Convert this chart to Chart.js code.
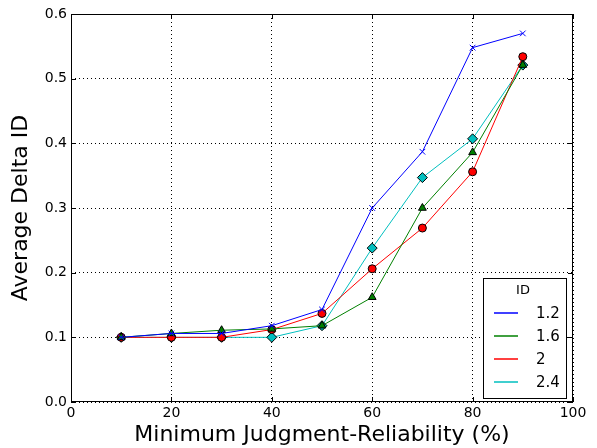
<!DOCTYPE html>
<html>
<head>
<meta charset="utf-8">
<script src="https://cdn.jsdelivr.net/npm/chart.js@4"></script>
<style>
  html, body { margin: 0; padding: 0; background: #fff; }
  #wrap { width: 597px; height: 448px; }
</style>
</head>
<body>
<div id="wrap"><canvas id="deltaChart" width="597" height="448"></canvas></div>
<script>
// data
var reliability = [10, 20, 30, 40, 50, 60, 70, 80, 90];
var id12 = [0.100, 0.106, 0.106, 0.118, 0.143, 0.300, 0.387, 0.548, 0.570];
var id16 = [0.100, 0.106, 0.111, 0.113, 0.118, 0.162, 0.300, 0.386, 0.521];
var id20 = [0.100, 0.100, 0.100, 0.112, 0.137, 0.206, 0.269, 0.356, 0.534];
var id24 = [0.100, 0.100, 0.100, 0.100, 0.118, 0.238, 0.347, 0.407, 0.521];
var seriesLabels = ['1.2', '1.6', '2', '2.4'];
var xTicks = [0, 20, 40, 60, 80, 100];
var yTicks = [0.0, 0.1, 0.2, 0.3, 0.4, 0.5, 0.6];

var FONT = 'DejaVu Sans, sans-serif';

function pts(ys) {
    return reliability.map(function (x, i) { return { x: x, y: ys[i] }; });
}

// box around the plot, inward tick marks and the boxed legend
var framePlugin = {
    id: 'frame',
    afterDraw: function (chart) {
        var ctx = chart.ctx, a = chart.chartArea;
        var xs = chart.scales.x, ys = chart.scales.y;
        ctx.save();
        ctx.strokeStyle = '#000';
        ctx.lineWidth = 1;
        ctx.setLineDash([]);
        ctx.strokeRect(a.left + 0.5, a.top + 0.5, a.right - a.left - 1, a.bottom - a.top - 1);
        ctx.beginPath();
        xTicks.forEach(function (v) {
            var px = Math.round(xs.getPixelForValue(v)) + 0.5;
            ctx.moveTo(px, a.bottom); ctx.lineTo(px, a.bottom - 5);
            ctx.moveTo(px, a.top); ctx.lineTo(px, a.top + 5);
        });
        yTicks.forEach(function (v) {
            var py = Math.round(ys.getPixelForValue(v)) + 0.5;
            ctx.moveTo(a.left, py); ctx.lineTo(a.left + 5, py);
            ctx.moveTo(a.right, py); ctx.lineTo(a.right - 5, py);
        });
        ctx.stroke();

        // legend
        var lx = 483, ly = 278, lw = 83, lh = 120;
        ctx.fillStyle = '#fff';
        ctx.fillRect(lx, ly, lw, lh);
        ctx.strokeRect(lx + 0.5, ly + 0.5, lw, lh);
        ctx.fillStyle = '#000';
        ctx.font = '13px ' + FONT;
        ctx.textAlign = 'center';
        ctx.textBaseline = 'middle';
        ctx.fillText('ID', 523, 291);
        ctx.font = '15px ' + FONT;
        ctx.textAlign = 'left';
        chart.data.datasets.forEach(function (ds, i) {
            var y = 313 + i * 23;
            ctx.strokeStyle = ds.borderColor;
            ctx.lineWidth = 1.5;
            ctx.beginPath();
            ctx.moveTo(494, y);
            ctx.lineTo(518, y);
            ctx.stroke();
            ctx.fillText(ds.label, 536, y + 1);
        });
        ctx.restore();
    }
};

var ctx = document.getElementById('deltaChart').getContext('2d');
var deltaChart = new Chart(ctx, {
    type: 'line',
    data: {
        datasets: [{
            label: seriesLabels[0],
            data: pts(id12),
            borderColor: '#0000ff',
            backgroundColor: '#0000ff',
            pointStyle: 'crossRot',
            pointRadius: 4,
            pointBorderColor: '#0000ff',
            pointBorderWidth: 1
        }, {
            label: seriesLabels[1],
            data: pts(id16),
            borderColor: '#008000',
            backgroundColor: '#008000',
            pointStyle: 'triangle',
            pointRadius: 4.5,
            pointBorderColor: '#000',
            pointBorderWidth: 1
        }, {
            label: seriesLabels[2],
            data: pts(id20),
            borderColor: '#ff0000',
            backgroundColor: '#ff0000',
            pointStyle: 'circle',
            pointRadius: 4,
            pointBorderColor: '#000',
            pointBorderWidth: 1
        }, {
            label: seriesLabels[3],
            data: pts(id24),
            borderColor: '#00bfbf',
            backgroundColor: '#00bfbf',
            pointStyle: 'rectRot',
            pointRadius: 5,
            pointBorderColor: '#000',
            pointBorderWidth: 1
        }]
    },
    options: {
        responsive: false,
        animation: false,
        elements: { line: { borderWidth: 1, tension: 0 } },
        layout: { padding: { left: 0, right: 24, top: 14, bottom: 0 } },
        scales: {
            x: {
                type: 'linear',
                min: 0,
                max: 100,
                afterFit: function (s) { s.height = 46; },
                afterBuildTicks: function (s) { s.ticks = xTicks.map(function (v) { return { value: v }; }); },
                ticks: {
                    color: '#000',
                    padding: 3,
                    font: { family: FONT, size: 14 }
                },
                grid: { color: '#000', lineWidth: 1, drawTicks: false },
                border: { display: false, dash: [1, 3] },
                title: {
                    display: true,
                    text: 'Minimum Judgment-Reliability (%)',
                    color: '#000',
                    padding: { top: 0, bottom: 0 },
                    font: { family: FONT, size: 22 }
                }
            },
            y: {
                min: 0,
                max: 0.6,
                afterFit: function (s) { s.width = 71; },
                afterBuildTicks: function (s) { s.ticks = yTicks.map(function (v) { return { value: v }; }); },
                ticks: {
                    color: '#000',
                    padding: 4,
                    font: { family: FONT, size: 14 },
                    callback: function (v) { return v.toFixed(1); }
                },
                grid: { color: '#000', lineWidth: 1, drawTicks: false },
                border: { display: false, dash: [1, 3] },
                title: {
                    display: true,
                    text: 'Average Delta ID',
                    color: '#000',
                    padding: { top: 8, bottom: 0 },
                    font: { family: FONT, size: 22 }
                }
            }
        },
        plugins: {
            legend: { display: false },
            tooltip: { enabled: false }
        }
    },
    plugins: [framePlugin]
});
</script>
</body>
</html>
